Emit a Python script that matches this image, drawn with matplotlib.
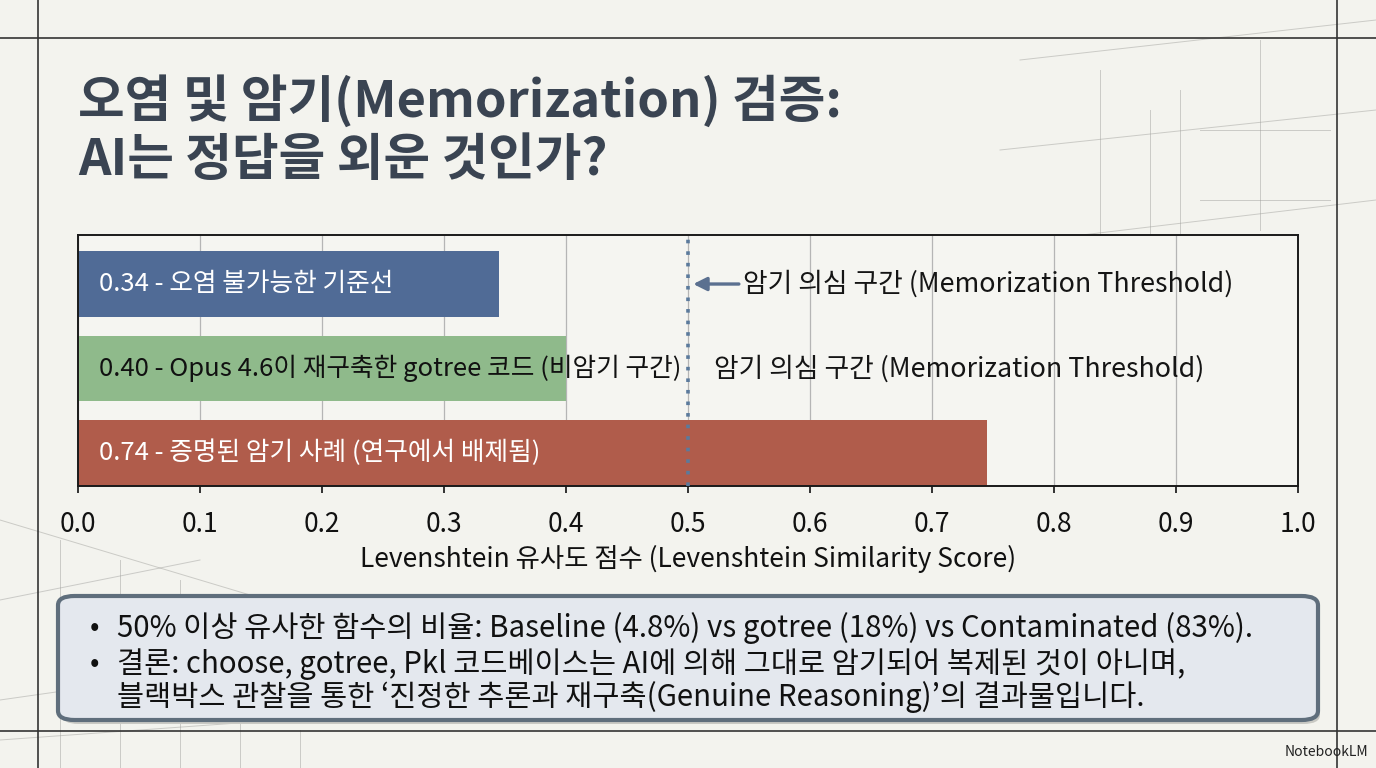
import matplotlib
matplotlib.use("Agg")
import matplotlib.pyplot as plt
from matplotlib.patches import FancyBboxPatch
from matplotlib.lines import Line2D

plt.rcParams['font.family'] = ['Noto Sans CJK KR', 'DejaVu Sans']

# ---- data ----
categories = ["baseline", "gotree", "contaminated"]
values = [0.345, 0.40, 0.745]
bar_labels = ["0.34 - 오염 불가능한 기준선",
              "0.40 - Opus 4.6이 재구축한 gotree 코드 (비암기 구간)",
              "0.74 - 증명된 암기 사례 (연구에서 배제됨)"]
bar_colors = ["#506b96", "#8fba8b", "#b05c4b"]
label_colors = ["white", "#111111", "white"]
threshold = 0.5
threshold_label = "암기 의심 구간 (Memorization Threshold)"
xticks = [0.0, 0.1, 0.2, 0.3, 0.4, 0.5, 0.6, 0.7, 0.8, 0.9, 1.0]
xtick_labels = ["0.0", "0.1", "0.2", "0.3", "0.4", "0.5", "0.6", "0.7", "0.8", "0.9", "1.0"]
xlabel = "Levenshtein 유사도 점수 (Levenshtein Similarity Score)"
title_lines = ["오염 및 암기(Memorization) 검증:", "AI는 정답을 외운 것인가?"]
bullet_lines = ["50% 이상 유사한 함수의 비율: Baseline (4.8%) vs gotree (18%) vs Contaminated (83%).",
                "결론: choose, gotree, Pkl 코드베이스는 AI에 의해 그대로 암기되어 복제된 것이 아니며,",
                "블랙박스 관찰을 통한 ‘진정한 추론과 재구축(Genuine Reasoning)’의 결과물입니다."]
bullet_marks = [True, True, False]

BG = "#f3f3ee"
W, H = 1376, 768
fig = plt.figure(figsize=(W / 100, H / 100), dpi=100, facecolor=BG)


def fline(x0, y0, x1, y1, **kw):
    fig.add_artist(Line2D([x0 / W, x1 / W], [1 - y0 / H, 1 - y1 / H],
                          transform=fig.transFigure, **kw))


# faint decorative sketch lines (background)
sketch = dict(color="#9a9a96", lw=0.7, alpha=0.45, zorder=0)
for seg in [(1020, 60, 1376, 20), (1000, 150, 1376, 110), (1040, 240, 1376, 200),
            (1100, 70, 1100, 250), (1180, 90, 1180, 240), (1260, 40, 1260, 230),
            (1200, 130, 1330, 130), (1200, 200, 1330, 200), (1150, 110, 1150, 240),
            (0, 520, 300, 610), (0, 600, 200, 560), (0, 700, 420, 640),
            (60, 540, 60, 768), (120, 560, 120, 768), (180, 580, 180, 768),
            (240, 600, 240, 768), (0, 740, 560, 700), (300, 730, 300, 768)]:
    fline(*seg, **sketch)

# decorative frame lines
for seg in [(0, 38, W, 38), (0, 731, W, 731), (38, 0, 38, H), (1337, 0, 1337, H)]:
    fline(*seg, color="#333333", lw=1.2, zorder=1)

# title
fig.text(78 / W, 1 - 101 / H, title_lines[0], fontsize=36.5, fontweight='bold', color="#3a4452",
         va='center', ha='left')
fig.text(78 / W, 1 - 160 / H, title_lines[1], fontsize=36.5, fontweight='bold', color="#3a4452",
         va='center', ha='left')

# axes
ax = fig.add_axes([78 / W, 1 - 486 / H, 1220 / W, 251 / H])
ax.set_facecolor("#f5f5f1")
ypos = list(range(len(categories)))
ax.barh(ypos, values, height=0.78, color=bar_colors, zorder=2)
ax.set_xlim(0, 1.0)
ax.set_ylim(2.39, -0.58)
ax.set_yticks([])
ax.set_xticks(xticks)
ax.set_xticklabels(xtick_labels, fontsize=19)
ax.tick_params(axis='x', length=5, width=1.2, pad=13, colors="#111111")
ax.grid(axis='x', color="#b5b5b5", lw=0.9, zorder=0)
for s in ax.spines.values():
    s.set_linewidth(1.4)
    s.set_color("#1a1a1a")
ax.set_xlabel(xlabel, fontsize=19, labelpad=5, color="#111111")

for y, lab, c in zip(ypos, bar_labels, label_colors):
    ax.text(0.017, y, lab, color=c, fontsize=18.5, va='center', ha='left', zorder=4,
            fontweight='medium')

ax.axvline(threshold, color="#5b7a9c", lw=2.6, ls=(0, (1, 2.2)), zorder=3)
ax.annotate('', xy=(threshold + 0.002, 0), xytext=(threshold + 0.044, 0),
            arrowprops=dict(arrowstyle='-|>', color="#5b7090", lw=2.4, mutation_scale=20), zorder=4)
ax.text(threshold + 0.045, 0, threshold_label, fontsize=19.3, va='center', ha='left',
        color="#151515", fontweight='medium')
ax.text(threshold + 0.021, 1, threshold_label, fontsize=19.3, va='center', ha='left',
        color="#151515", fontweight='medium')

# bottom box with shadow
shadow = FancyBboxPatch((62 / W, 1 - 724 / H), 1258 / W, 124 / H,
                        boxstyle="round,pad=0,rounding_size=0.012", transform=fig.transFigure,
                        facecolor="#c9c9c4", edgecolor='none', zorder=1)
fig.add_artist(shadow)
box = FancyBboxPatch((58 / W, 1 - 720 / H), 1260 / W, 124 / H,
                     boxstyle="round,pad=0,rounding_size=0.012", transform=fig.transFigure,
                     facecolor="#e4e8ee", edgecolor="#5f6e7c", lw=3, zorder=2)
fig.add_artist(box)

for yy, line, mark in zip([628, 664, 697], bullet_lines, bullet_marks):
    if mark:
        fig.text(90 / W, 1 - yy / H, "•", fontsize=20, va='center', ha='left', color="#111111",
                 zorder=3)
    fig.text(117 / W, 1 - yy / H, line, fontsize=21.2, va='center', ha='left', color="#111111",
             fontweight='medium', zorder=3)

fig.text(1368 / W, 1 - 752 / H, "NotebookLM", fontsize=10, va='center', ha='right', color="#222222")

fig.savefig("out.png", dpi=100, facecolor=BG)
